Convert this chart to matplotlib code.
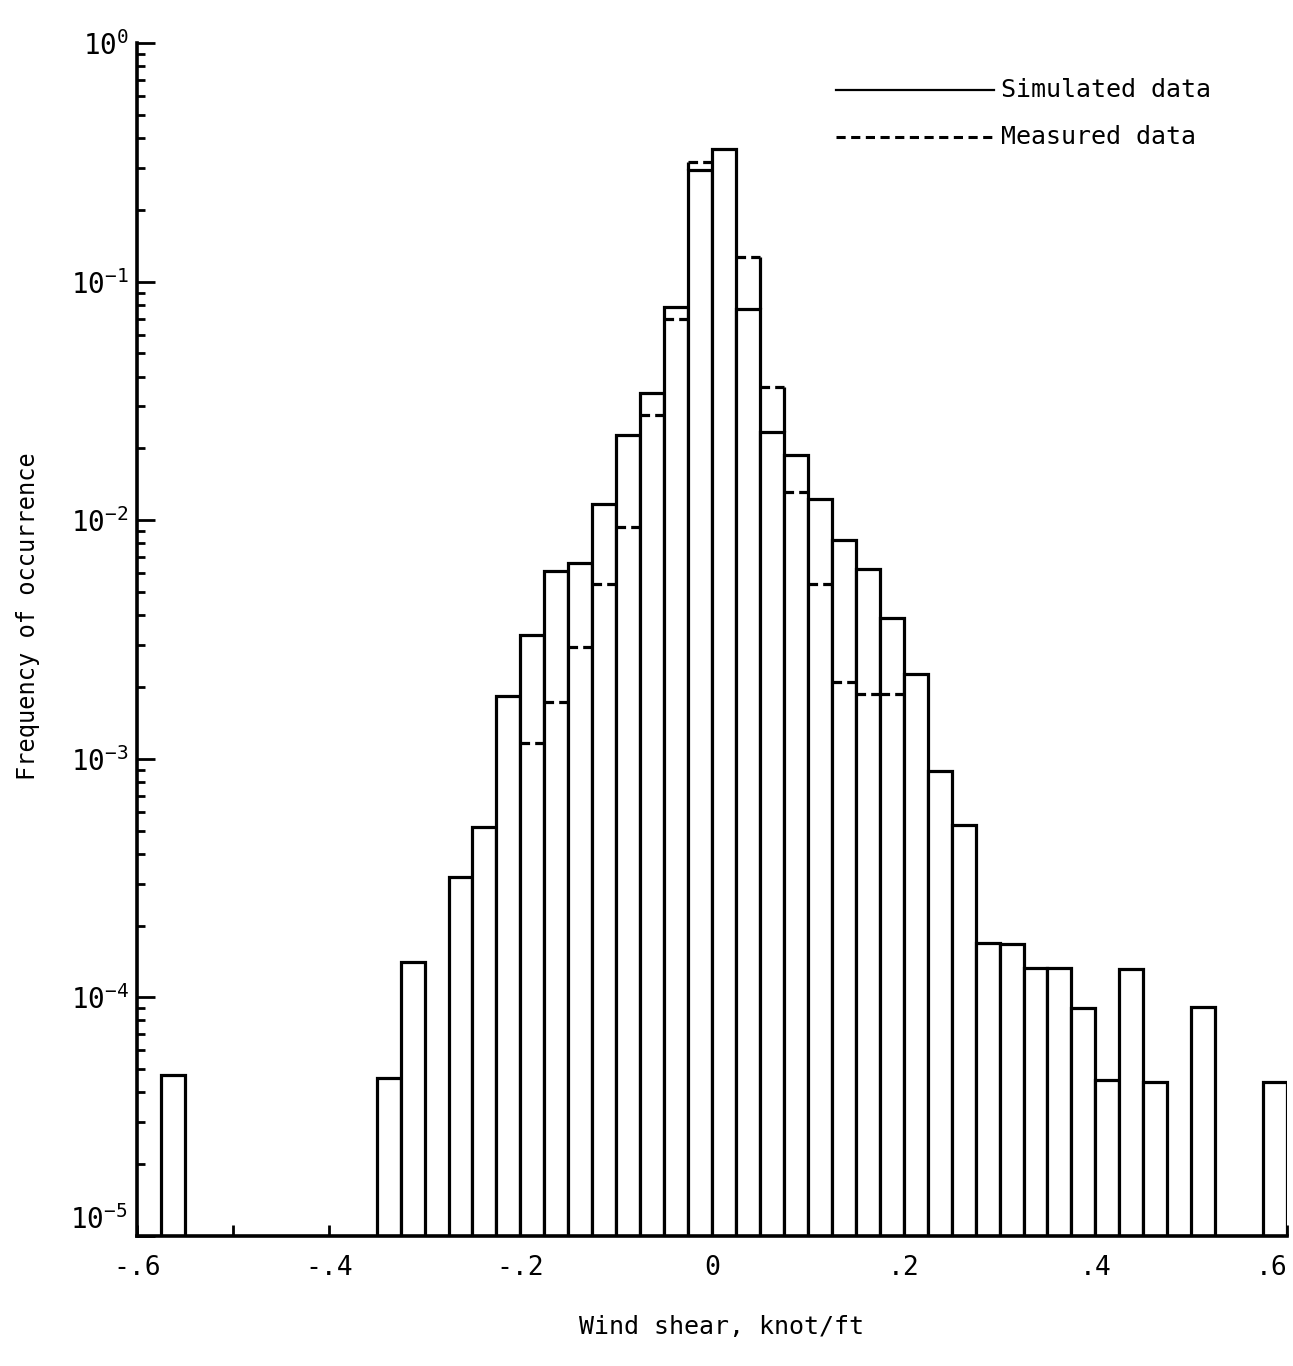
import numpy as np
import matplotlib
matplotlib.use("Agg")
import matplotlib.pyplot as plt

plt.rcParams['font.family'] = ['DejaVu Sans Mono', 'DejaVu Sans']
plt.rcParams['axes.unicode_minus'] = False

BIN_W = 0.025

# simulated data: left edge of bin -> frequency
sim_left = [-0.575, -0.35, -0.325, -0.275, -0.25, -0.225, -0.2, -0.175, -0.15, -0.125,
            -0.1, -0.075, -0.05, -0.025, 0.0, 0.025, 0.05, 0.075, 0.1, 0.125,
            0.15, 0.175, 0.2, 0.225, 0.25, 0.275, 0.3, 0.325, 0.35, 0.375,
            0.4, 0.425, 0.45, 0.5, 0.575]
sim_val = [4.7e-5, 4.6e-5, 1.4e-4, 3.2e-4, 5.2e-4, 1.84e-3, 3.3e-3, 6.1e-3, 6.6e-3, 1.17e-2,
           2.28e-2, 3.42e-2, 7.8e-2, 0.294, 0.36, 7.7e-2, 2.35e-2, 1.88e-2, 1.23e-2, 8.3e-3,
           6.25e-3, 3.9e-3, 2.27e-3, 8.9e-4, 5.3e-4, 1.69e-4, 1.67e-4, 1.33e-4, 1.33e-4, 9.0e-5,
           4.5e-5, 1.31e-4, 4.4e-5, 9.1e-5, 4.4e-5]

# measured data (dashed), nan where it coincides with the simulated bar
meas_left = [-0.2, -0.175, -0.15, -0.125, -0.1, -0.075, -0.05, -0.025,
             0.0, 0.025, 0.05, 0.075, 0.1, 0.125, 0.15, 0.175]
meas_val = [1.16e-3, 1.73e-3, 2.95e-3, 5.4e-3, 9.4e-3, 2.76e-2, 7.0e-2, 0.317,
            np.nan, 0.127, 3.6e-2, 1.31e-2, 5.4e-3, 2.1e-3, 1.87e-3, 1.87e-3]

xtick_pos = [-0.6, -0.5, -0.4, -0.3, -0.2, -0.1, 0.0, 0.1, 0.2, 0.3, 0.4, 0.5, 0.6]
xtick_lab = ['-.6', '', '-.4', '', '-.2', '', '0', '', '.2', '', '.4', '', '.6']
ytick_pos = [1e-5, 1e-4, 1e-3, 1e-2, 1e-1, 1e0]
ytick_lab = ['', r'$\mathregular{10^{-4}}$', r'$\mathregular{10^{-3}}$',
             r'$\mathregular{10^{-2}}$', r'$\mathregular{10^{-1}}$', r'$\mathregular{10^{0}}$']

LW = 2.3
fig = plt.figure(figsize=(12.93, 13.66), dpi=100)
ax = fig.add_axes([0.106, 0.0952, 0.8894, 0.8733])
ax.set_yscale('log')
ax.set_xlim(-0.6, 0.6)
ax.set_ylim(1e-5, 1.0)

ax.bar(sim_left, sim_val, width=BIN_W, align='edge', bottom=1e-7,
       facecolor='white', edgecolor='black', linewidth=LW, zorder=2)

# measured: dashed tops, plus solid edge extensions where measured is taller
sim_map = {round(l, 3): v for l, v in zip(sim_left, sim_val)}
for l, v in zip(meas_left, meas_val):
    if np.isnan(v):
        continue
    ax.hlines(v, l, l + BIN_W, colors='black', linewidth=LW,
              linestyles=(0, (3, 1.6)), zorder=3)
    s = sim_map.get(round(l, 3), 1e-7)
    if v > s:
        for edge, nb in [(l, round(l - BIN_W, 3)), (l + BIN_W, round(l + BIN_W, 3))]:
            lo = max(s, sim_map.get(nb, 1e-7))
            if v > lo:
                ax.vlines(edge, lo, v, colors='black', linewidth=LW, zorder=3)

for side in ['top', 'right']:
    ax.spines[side].set_visible(False)
for side in ['left', 'bottom']:
    ax.spines[side].set_linewidth(2.6)

ax.set_xticks(xtick_pos)
ax.set_xticklabels(xtick_lab, fontsize=19)
ax.tick_params(axis='x', direction='in', length=8, width=2, pad=14)
ax.get_xticklabels()[-1].set_horizontalalignment('right')
ax.set_yticks(ytick_pos)
ax.set_yticklabels(ytick_lab, fontsize=20)
ax.tick_params(axis='y', which='major', direction='in', length=13, width=2, pad=6)
ax.yaxis.set_minor_locator(matplotlib.ticker.LogLocator(base=10, subs=np.arange(2, 10)))
ax.yaxis.set_minor_formatter(matplotlib.ticker.NullFormatter())
ax.tick_params(axis='y', which='minor', direction='in', length=6, width=2)

# bottom label sits a bit higher in the original
ax.text(-0.008, 1.2e-5, r'$\mathregular{10^{-5}}$', transform=ax.get_yaxis_transform(),
        ha='right', va='center_baseline', fontsize=20)

ax.set_ylabel('Frequency of occurrence', fontsize=17)
ax.yaxis.set_label_coords(-0.084, 0.52)
ax.set_xlabel('Wind shear, knot/ft', fontsize=18)
ax.xaxis.set_label_coords(0.508, -0.066)

# legend drawn by hand
ax.plot([0.608, 0.745], [0.9606, 0.9606], color='black', linewidth=1.6,
        transform=ax.transAxes, clip_on=False)
ax.text(0.751, 0.9606, 'Simulated data', transform=ax.transAxes, fontsize=18, va='center')
ax.plot([0.608, 0.745], [0.921, 0.921], color='black', linewidth=2.2,
        linestyle=(0, (3, 1.8)), transform=ax.transAxes, clip_on=False)
ax.text(0.751, 0.921, 'Measured data', transform=ax.transAxes, fontsize=18, va='center')

fig.savefig('out.png', dpi=100)
